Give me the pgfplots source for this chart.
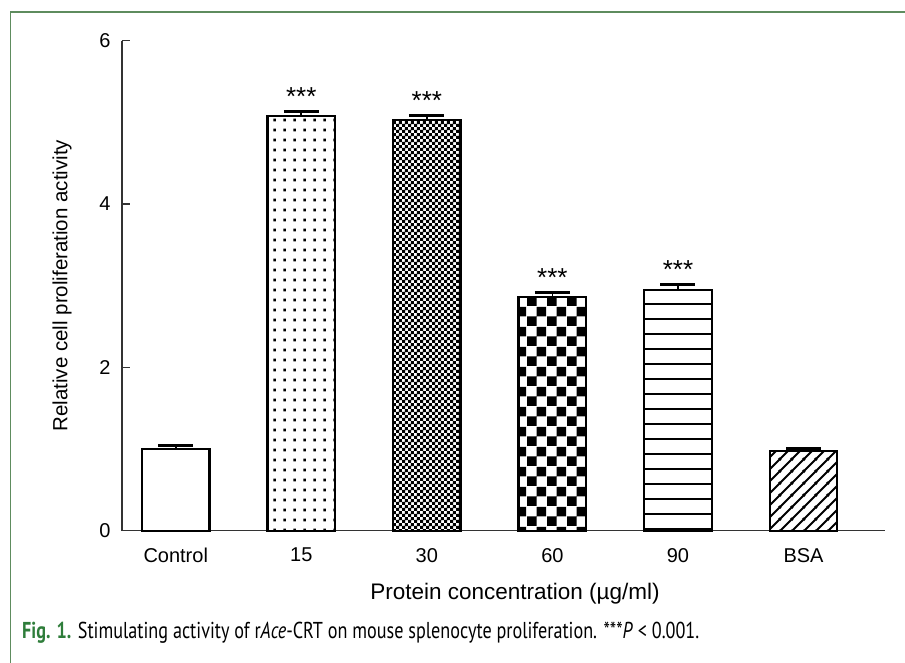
\documentclass[border=0pt]{standalone}
\usepackage{pgfplots}
\pgfplotsset{compat=1.18}
\usepackage{fontspec}
\usepackage{graphicx}
\setmainfont{Liberation Sans}
\newfontfamily\capfont{PT Sans}
\usetikzlibrary{patterns.meta}
\definecolor{framegreen}{RGB}{94,140,94}
\definecolor{capgreen}{RGB}{46,125,58}

\pgfdeclarepattern{name=pdots, type=uncolored,
  bottom left={\pgfpoint{0pt}{0pt}}, top right={\pgfpoint{10pt}{9.8pt}},
  tile size={\pgfpoint{10pt}{9.8pt}},
  code={\pgfpathrectangle{\pgfpoint{3.8pt}{3.8pt}}{\pgfpoint{2.6pt}{2.6pt}}\pgfusepath{fill}}}
\pgfdeclarepattern{name=pfine, type=uncolored,
  bottom left={\pgfpoint{0pt}{0pt}}, top right={\pgfpoint{6.4pt}{6.4pt}},
  tile size={\pgfpoint{6.4pt}{6.4pt}},
  code={\pgfpathrectangle{\pgfpoint{0pt}{0pt}}{\pgfpoint{3.5pt}{3.5pt}}
        \pgfpathrectangle{\pgfpoint{3.2pt}{3.2pt}}{\pgfpoint{3.2pt}{3.2pt}}\pgfusepath{fill}}}
\pgfdeclarepattern{name=pcoarse, type=uncolored,
  bottom left={\pgfpoint{0pt}{0pt}}, top right={\pgfpoint{19.5pt}{19.5pt}},
  tile size={\pgfpoint{19.5pt}{19.5pt}},
  code={\pgfpathrectangle{\pgfpoint{0pt}{0pt}}{\pgfpoint{9.75pt}{9.75pt}}
        \pgfpathrectangle{\pgfpoint{9.75pt}{9.75pt}}{\pgfpoint{9.75pt}{9.75pt}}\pgfusepath{fill}}}
\pgfdeclarepattern{name=phlines, type=uncolored,
  bottom left={\pgfpoint{0pt}{0pt}}, top right={\pgfpoint{200pt}{14.7pt}},
  tile size={\pgfpoint{200pt}{14.7pt}},
  code={\pgfpathrectangle{\pgfpoint{0pt}{0pt}}{\pgfpoint{200pt}{2pt}}\pgfusepath{fill}}}
\pgfdeclarepattern{name=pdiag, type=uncolored,
  bottom left={\pgfpoint{0pt}{0pt}}, top right={\pgfpoint{12pt}{12pt}},
  tile size={\pgfpoint{12pt}{12pt}},
  code={\pgfsetlinewidth{2pt}
        \pgfpathmoveto{\pgfpoint{-1pt}{-1pt}}\pgfpathlineto{\pgfpoint{13pt}{13pt}}
        \pgfpathmoveto{\pgfpoint{-1pt}{11pt}}\pgfpathlineto{\pgfpoint{1pt}{13pt}}
        \pgfpathmoveto{\pgfpoint{11pt}{-1pt}}\pgfpathlineto{\pgfpoint{13pt}{1pt}}
        \pgfusepath{stroke}}}

\begin{document}
\begin{tikzpicture}[x=1pt,y=1pt]
\useasboundingbox (0,0) rectangle (905,662);
\fill[white] (0,0) rectangle (905,662);
\draw[framegreen, line width=1.4pt] (10.7,-2) -- (10.7,650) -- (907,650);

\begin{axis}[
  at={(122pt,131.3pt)}, anchor=south west,
  scale only axis, width=763pt, height=490pt,
  xmin=-0.428, xmax=5.649, ymin=0, ymax=6,
  axis x line*=bottom, axis y line*=left,
  axis line style={-, line width=1.1pt, black!80},
  xtick={0,1,2,3,4,5},
  xticklabels={Control,15,30,60,90,BSA},
  x tick style={draw=none},
  ytick={0,2,4,6},
  tick align=inside, major tick length=8pt,
  y tick style={line width=1.1pt, black!80},
  tick label style={font=\fontsize{20}{23}\selectfont},
  /pgf/number format/assume math mode=true,
  yticklabel style={xshift=-8pt},
  xticklabel style={yshift=-14pt},
  xlabel={Protein concentration (µg/ml)},
  ylabel={Relative cell proliferation activity},
  xlabel style={font=\fontsize{22.5}{26}\selectfont, at={(axis description cs:0.515,-0.129)}, anchor=center},
  ylabel style={font=\fontsize{20.5}{24}\selectfont, at={(axis description cs:-0.0786,0.5)}, anchor=center},
  clip=false,
  every axis plot/.append style={
    ybar, bar width=67.5pt, bar shift=0pt, draw=black, line width=2.4pt,
    error bars/y dir=plus, error bars/y explicit,
    error bars/error bar style={line width=1.8pt, black},
    error bars/error mark options={rotate=90, mark size=17.5pt, line width=3pt, black}},
]
\addplot[fill=white] coordinates {(0,1.00) +- (0,0.04)};
\addplot[pattern=pdots, pattern color=black] coordinates {(1,5.08) +- (0,0.05)};
\addplot[pattern=pfine, pattern color=black] coordinates {(2,5.03) +- (0,0.05)};
\addplot[pattern=pcoarse, pattern color=black] coordinates {(3,2.865) +- (0,0.05)};
\addplot[pattern=phlines, pattern color=black] coordinates {(4,2.95) +- (0,0.06)};
\addplot[pattern=pdiag, pattern color=black] coordinates {(5,0.976) +- (0,0.025)};

\node[anchor=base, font=\fontsize{26}{26}\selectfont, yshift=6pt] at (axis cs:1,5.13) {***};
\node[anchor=base, font=\fontsize{26}{26}\selectfont, yshift=6pt] at (axis cs:2,5.08) {***};
\node[anchor=base, font=\fontsize{26}{26}\selectfont, yshift=6pt] at (axis cs:3,2.915) {***};
\node[anchor=base, font=\fontsize{26}{26}\selectfont, yshift=6pt] at (axis cs:4,3.01) {***};
\end{axis}

\node[anchor=base west, inner sep=0pt] at (22,24) {\scalebox{0.79}[1]{\capfont\fontsize{23}{27}\selectfont
  \textcolor{capgreen}{\bfseries Fig. 1.} Stimulating activity of r\textit{Ace}-CRT on mouse splenocyte proliferation. ***\textit{P} < 0.001.}};
\end{tikzpicture}
\end{document}
